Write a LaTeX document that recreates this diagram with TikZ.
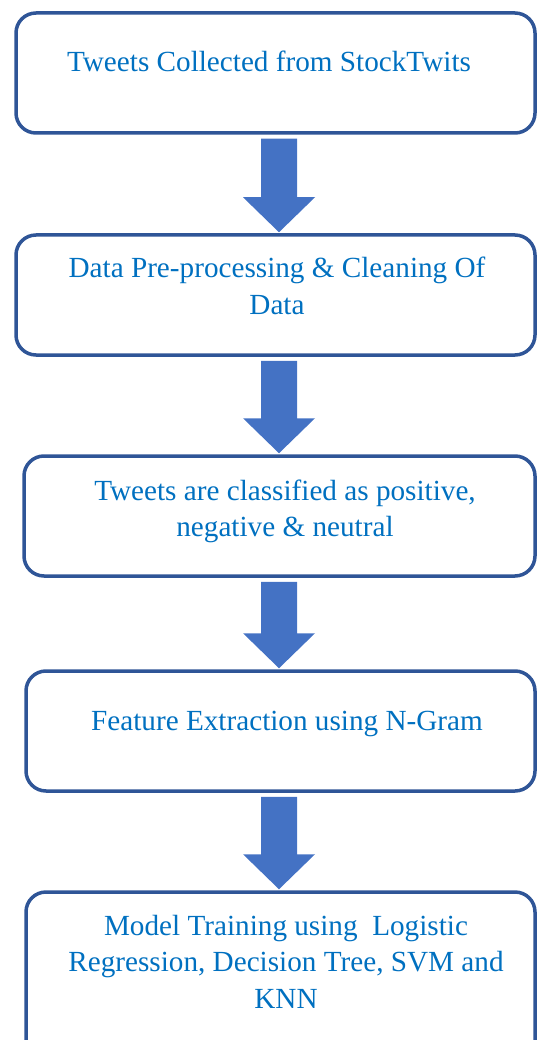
\documentclass[tikz,border=0pt]{standalone}
\usepackage{fontspec}
\setmainfont{Liberation Serif}
\usetikzlibrary{calc}
\definecolor{boxline}{HTML}{2F5597}
\definecolor{arrowfill}{HTML}{4472C4}
\definecolor{txtblue}{HTML}{0070C0}
\newcommand\flowarrow[2]{%
  \fill[flow] let \p1=(#1.south), \p2=(#2.north) in
    (261pt,\y1-4pt) -- (297pt,\y1-4pt) -- (297pt,\y2+36pt) -- (315pt,\y2+36pt)
    -- (279pt,\y2+1pt) -- (243pt,\y2+36pt) -- (261pt,\y2+36pt) -- cycle;}
\begin{document}
\begin{tikzpicture}[x=1pt,y=-1pt,
  stagebox/.style={draw=boxline, line width=3.5pt, rounded corners=20pt, rectangle, inner sep=0pt},
  lbl/.style={text=txtblue, font=\fontsize{29.2}{36.5}\selectfont, align=center, anchor=base, inner sep=0pt},
  flow/.style={fill=arrowfill, draw=none}]
\useasboundingbox (0,0) rectangle (537,1040);
\clip (0,0) rectangle (537,1040);
\node[stagebox, minimum width=519pt, minimum height=120pt] (b1) at (275.5,73) {};
\node[stagebox, minimum width=519pt, minimum height=120pt] (b2) at (275.5,295) {};
\node[stagebox, minimum width=511pt, minimum height=120pt] (b3) at (279.5,516) {};
\node[stagebox, minimum width=509pt, minimum height=120pt] (b4) at (280.5,731) {};
\node[stagebox, minimum width=509pt, minimum height=168pt] (b5) at (280.5,976) {};
\node[lbl] (t1) at (269,72) {Tweets Collected from StockTwits};
\node[lbl] (t2) at (277,314.5) {Data Pre-processing \& Cleaning Of\\Data};
\node[lbl] (t3) at (285,536.5) {Tweets are classified as positive,\\negative \& neutral};
\node[lbl] (t4) at (287,730) {Feature Extraction using N-Gram};
\node[lbl] (t5) at (286,1008) {Model Training using\ \ Logistic\\Regression, Decision Tree, SVM and\\KNN};
\flowarrow{b1}{b2}
\flowarrow{b2}{b3}
\flowarrow{b3}{b4}
\flowarrow{b4}{b5}
\end{tikzpicture}
\end{document}
